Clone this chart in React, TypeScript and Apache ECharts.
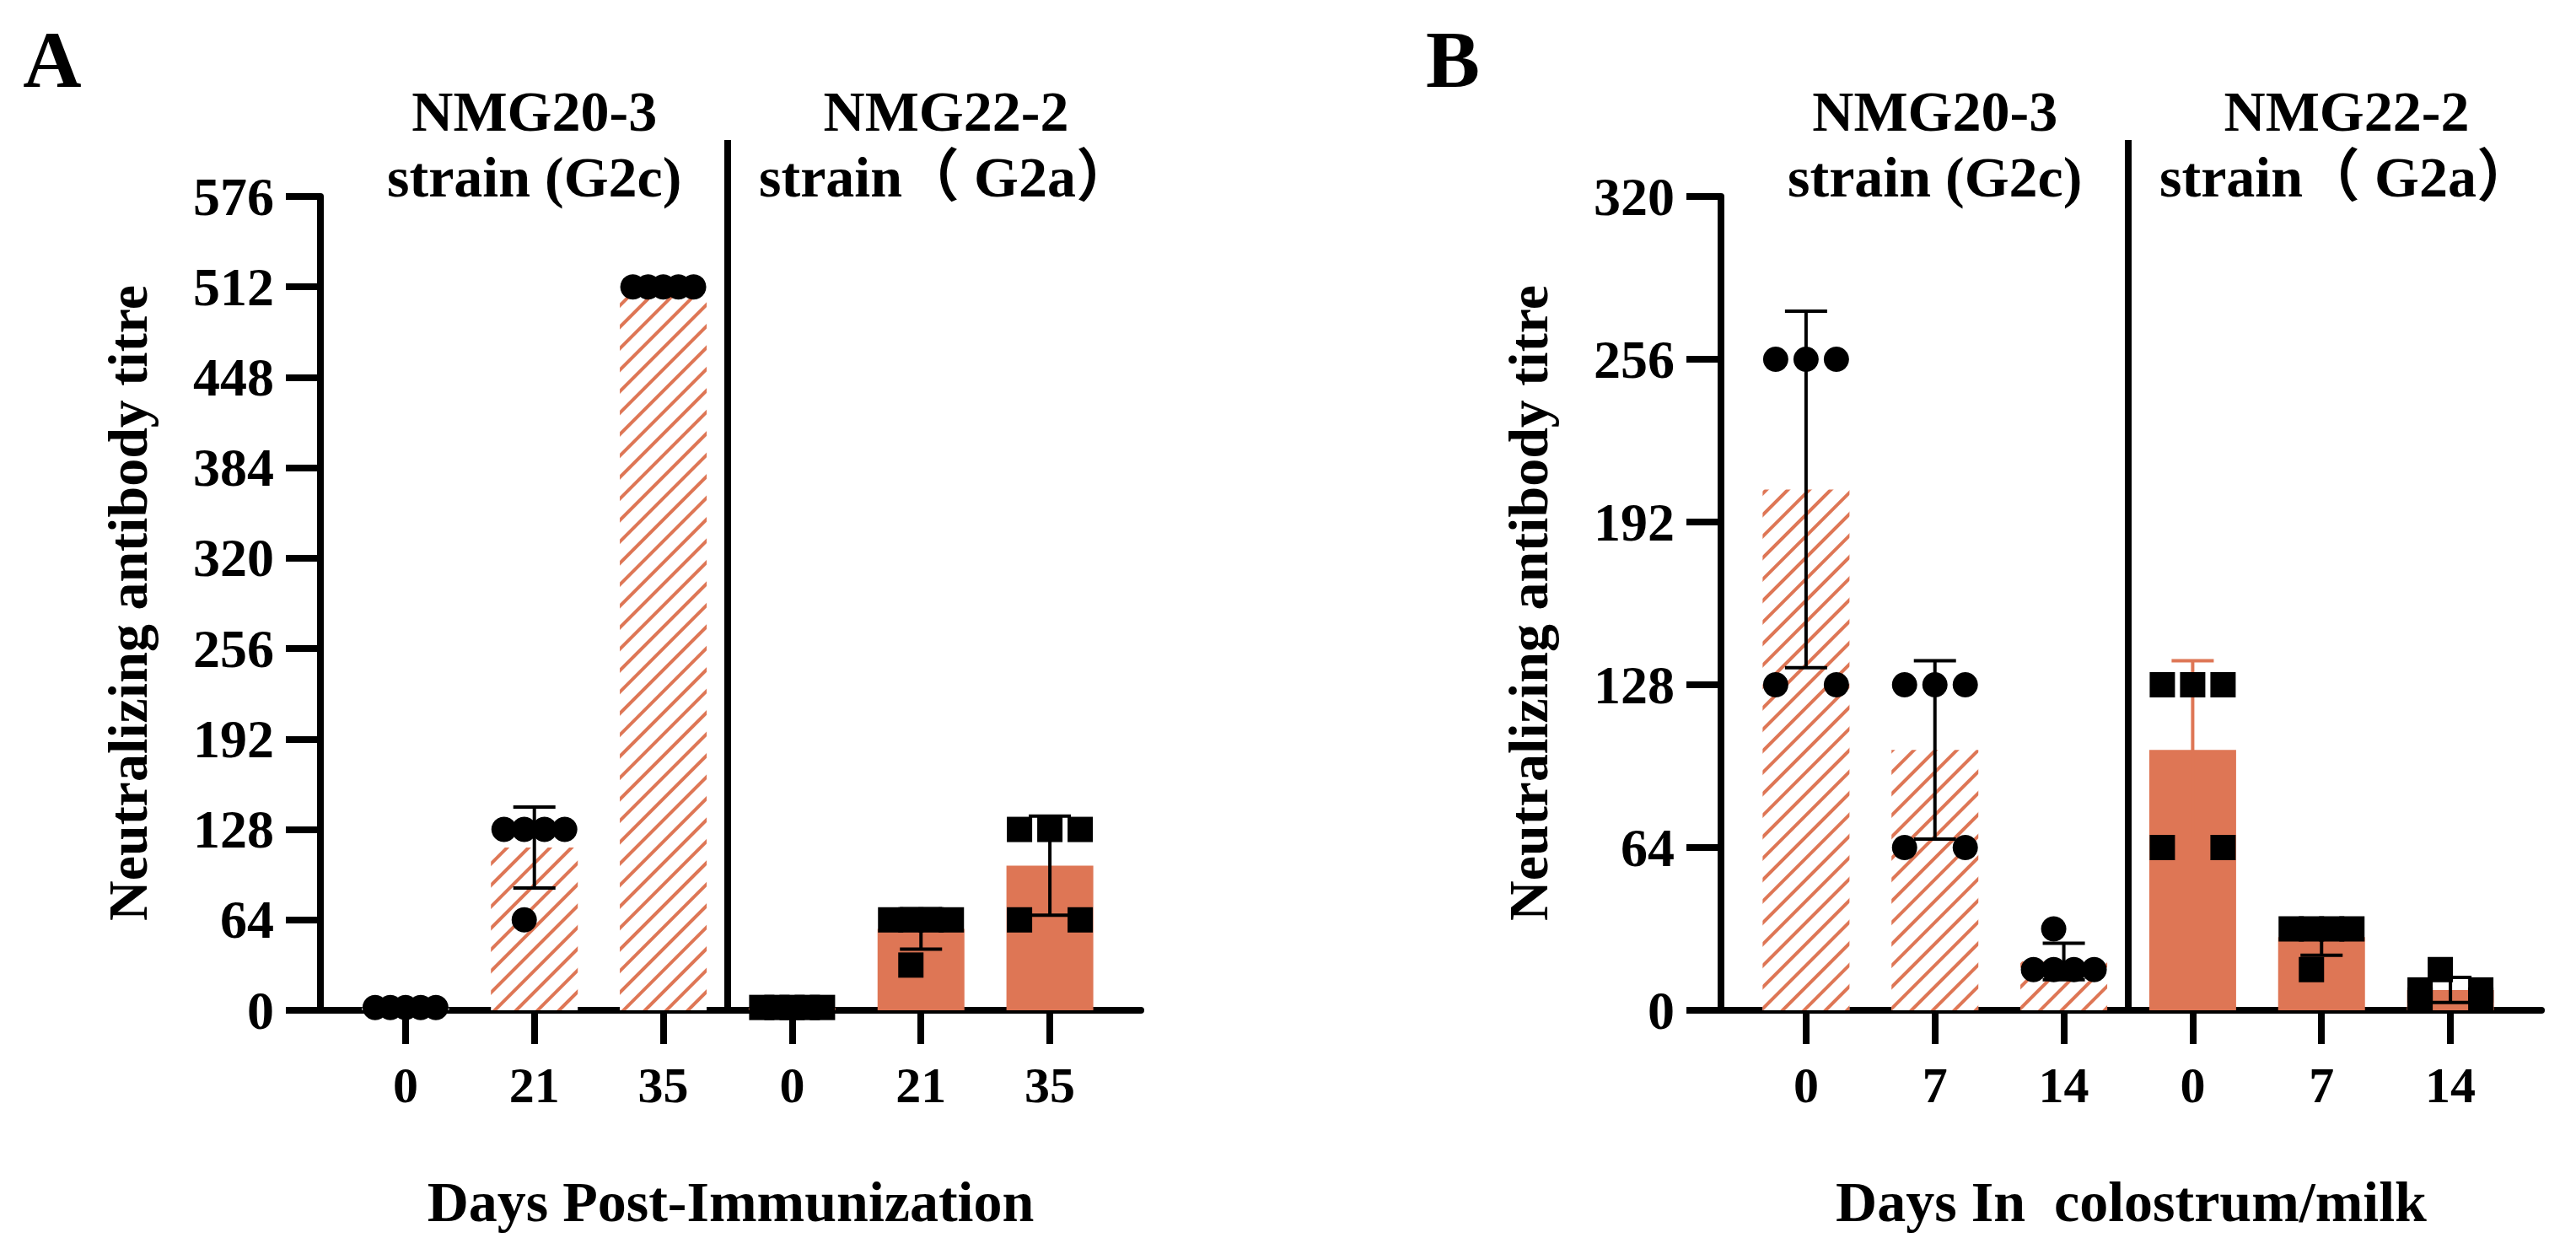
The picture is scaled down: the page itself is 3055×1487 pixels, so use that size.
import React, { useEffect, useRef } from "react";
import * as echarts from "echarts";

// tick labels of the two x axes (group 1 = NMG20-3, group 2 = NMG22-2)
const daysA = ["0", "21", "35", "0", "21", "35"];
const daysB = ["0", "7", "14", "0", "7", "14"];
const strainG2c = ["NMG20-3", "strain (G2c)"];
const strainG2a = ["NMG22-2", "strain（ G2a）"];

// individual neutralizing titres, one row per time point (5 animals)
const immunG2c = [
  [2, 2, 2, 2, 2],
  [128, 128, 128, 128, 64],
  [512, 512, 512, 512, 512],
];
const immunG2a = [
  [2, 2, 2, 2, 2],
  [64, 64, 64, 64, 32],
  [128, 128, 128, 64, 64],
];
const milkG2c = [
  [256, 256, 256, 128, 128],
  [128, 128, 128, 64, 64],
  [32, 16, 16, 16, 16],
];
const milkG2a = [
  [128, 128, 128, 64, 64],
  [32, 32, 32, 32, 16],
  [16, 8, 8, 4, 4],
];

const yMaxA = 576;
const yMaxB = 320;
const yStep = 64;

const ORANGE = "#DE7655";
const FONT = "'Liberation Serif', 'Noto Sans CJK SC', serif";
const BAR_W = 103;
const SYM = 30;
const SPREAD = 36;
const LONE = -12;
const CAP = 50;
const X_MIN = 0.34;
const X_MAX = 6.706;
const PANEL_SHIFT = 1661;
// error bar colour per column, panel B column 4 is drawn in the bar colour
const errColorA = ["#000", "#000", "#000", "#000", "#000", "#000"];
const errColorB = ["#000", "#000", "#000", ORANGE, "#000", "#000"];

const mean = (v: number[]) => v.reduce((a, b) => a + b, 0) / v.length;
const sd = (v: number[]) => {
  const m = mean(v);
  return Math.sqrt(v.reduce((a, b) => a + (b - m) * (b - m), 0) / (v.length - 1));
};

// horizontal scatter of equal values across the bar
const offsets = (vals: number[]) => {
  const counts = new Map<number, number>();
  vals.forEach((v) => counts.set(v, (counts.get(v) || 0) + 1));
  const seen = new Map<number, number>();
  return vals.map((v) => {
    const n = counts.get(v)!;
    const k = seen.get(v) || 0;
    seen.set(v, k + 1);
    if (n === 1) return LONE;
    return -SPREAD + (2 * SPREAD * k) / (n - 1);
  });
};

const hatch = {
  color: ORANGE,
  symbol: "rect",
  symbolSize: 1,
  dashArrayX: [1, 0],
  dashArrayY: [3.5, 13.5],
  rotation: -Math.PI / 4,
};

const panel = (
  gi: number,
  days: string[],
  g2c: number[][],
  g2a: number[][],
  yMax: number,
  errColor: string[]
) => {
  const groups = [...g2c, ...g2a];
  const axisLine = { show: true, onZero: false, lineStyle: { color: "#000", width: 8 } };
  const xAxis = {
    gridIndex: gi,
    type: "value",
    min: X_MIN,
    max: X_MAX,
    axisLine,
    axisTick: {
      show: true,
      length: 40,
      lineStyle: { color: "#000", width: 8 },
      customValues: [1, 2, 3, 4, 5, 6],
    },
    axisLabel: {
      customValues: [1, 2, 3, 4, 5, 6],
      formatter: (v: number) => days[Math.round(v) - 1],
      color: "#000",
      fontFamily: FONT,
      fontWeight: "bold",
      fontSize: 60,
      lineHeight: 60,
      margin: 59,
    },
    splitLine: { show: false },
    name: gi === 0 ? "Days Post-Immunization" : "Days In  colostrum/milk",
    nameLocation: "middle",
    nameGap: 193,
    nameTextStyle: {
      color: "#000",
      fontFamily: FONT,
      fontWeight: "bold",
      fontSize: 68,
      lineHeight: 68,
    },
  };
  const yAxis = {
    gridIndex: gi,
    type: "value",
    min: 0,
    max: yMax,
    interval: yStep,
    axisLine,
    axisTick: { show: true, length: 41, lineStyle: { color: "#000", width: 8 } },
    axisLabel: {
      color: "#000",
      fontFamily: FONT,
      fontWeight: "bold",
      fontSize: 64,
      margin: 55,
    },
    splitLine: { show: false },
  };
  const bars = {
    type: "bar",
    xAxisIndex: gi,
    yAxisIndex: gi,
    barWidth: BAR_W,
    z: 1,
    data: groups.map((vals, i) => ({
      value: [i + 1, mean(vals)],
      itemStyle: i < 3 ? { color: "#fff", decal: hatch } : { color: ORANGE },
    })),
  };
  const errors = {
    type: "custom",
    xAxisIndex: gi,
    yAxisIndex: gi,
    z: 2,
    clip: false,
    encode: { x: 0, y: 1 },
    data: groups.map((vals, i) => [i + 1, mean(vals), sd(vals)]),
    renderItem: (params: any, api: any) => {
      const x = api.value(0);
      const m = api.value(1);
      const s = api.value(2);
      const top = api.coord([x, m + s]);
      const bot = api.coord([x, m - s]);
      const style = { stroke: errColor[params.dataIndex], lineWidth: 4 };
      return {
        type: "group",
        children: [
          { type: "line", shape: { x1: top[0], y1: top[1], x2: bot[0], y2: bot[1] }, style },
          { type: "line", shape: { x1: top[0] - CAP / 2, y1: top[1], x2: top[0] + CAP / 2, y2: top[1] }, style },
          { type: "line", shape: { x1: bot[0] - CAP / 2, y1: bot[1], x2: bot[0] + CAP / 2, y2: bot[1] }, style },
        ],
      };
    },
  };
  const points = (rows: number[][], start: number, symbol: string) => ({
    type: "scatter",
    xAxisIndex: gi,
    yAxisIndex: gi,
    symbol,
    symbolSize: SYM,
    z: 3,
    itemStyle: { color: "#000", opacity: 1 },
    data: rows.flatMap((vals, i) => {
      const off = offsets(vals);
      return vals.map((v, k) => ({ value: [start + i, v], symbolOffset: [off[k], 0] }));
    }),
  });
  return {
    xAxis,
    yAxis,
    series: [bars, errors, points(g2c, 1, "circle"), points(g2a, 4, "rect")],
  };
};

const bold = (text: string, x: number, y: number, size: number, rotation = 0) => ({
  type: "text",
  x,
  y,
  rotation,
  style: {
    text,
    fill: "#000",
    font: `bold ${size}px ${FONT}`,
    textAlign: "center",
    textVerticalAlign: "middle",
  },
});

const App: React.FC = () => {
  const chartRef = useRef<HTMLDivElement>(null);
  const chartInstance = useRef<echarts.ECharts | null>(null);

  useEffect(() => {
    document.body.style.margin = "0";
    if (!chartRef.current) return;
    chartInstance.current = echarts.init(chartRef.current, null, { renderer: "svg" });
    const chart = chartInstance.current;

    const pA = panel(0, daysA, immunG2c, immunG2a, yMaxA, errColorA);
    const pB = panel(1, daysB, milkG2c, milkG2a, yMaxB, errColorB);

    chart.setOption({
      animation: false,
      backgroundColor: "#fff",
      grid: [
        { left: 380, top: 233, width: 973, height: 965 },
        { left: 380 + PANEL_SHIFT, top: 233, width: 973, height: 965 },
      ],
      xAxis: [pA.xAxis, pB.xAxis],
      yAxis: [pA.yAxis, pB.yAxis],
      series: [...pA.series, ...pB.series],
    });

    // panel decorations placed through the axes
    const graphic: any[] = [];
    [0, 1].forEach((gi) => {
      const dx = gi * PANEL_SHIFT;
      const div = chart.convertToPixel({ gridIndex: gi }, [3.5, 0]) as number[];
      const g1 = chart.convertToPixel({ gridIndex: gi }, [2, 0]) as number[];
      graphic.push({
        type: "line",
        shape: { x1: div[0], y1: 166, x2: div[0], y2: div[1] },
        style: { stroke: "#000", lineWidth: 8 },
      });
      graphic.push(bold(gi === 0 ? "A" : "B", 62 + dx, 70, 96));
      graphic.push(bold("Neutralizing antibody titre", 151 + dx, 715, 66, Math.PI / 2));
      graphic.push(bold(strainG2c[0], g1[0], 132, 68));
      graphic.push(bold(strainG2c[1], g1[0], 210, 68));
      graphic.push(bold(strainG2a[0], div[0] + 259, 132, 68));
      graphic.push(bold(strainG2a[1], div[0] + 259, 210, 68));
    });
    chart.setOption({ graphic });

    return () => {
      chartInstance.current?.dispose();
    };
  }, []);

  return (
    <div
      ref={chartRef}
      style={{ position: "absolute", left: 0, top: 0, width: "3055px", height: "1487px" }}
    />
  );
};

export default App;
